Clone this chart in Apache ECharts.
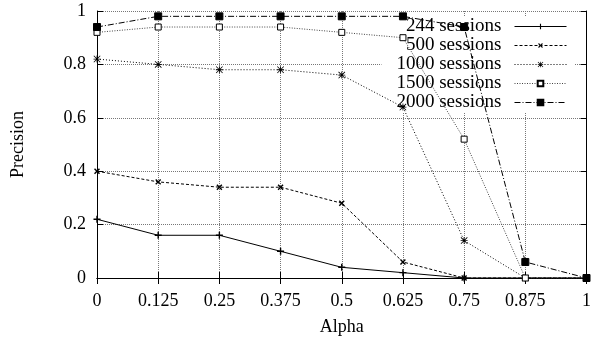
<!DOCTYPE html>
<html>
<head>
<meta charset="utf-8">
<script src="https://cdn.jsdelivr.net/npm/echarts@6/dist/echarts.min.js"></script>
<style>
html, body { margin: 0; padding: 0; background: #fff; }
#chart { width: 594px; height: 342px; }
</style>
</head>
<body>
<div id="chart"></div>
<script>
// precision vs alpha, one line per session count
var alphas = ['0', '0.125', '0.25', '0.375', '0.5', '0.625', '0.75', '0.875', '1'];
var names = ['244 sessions', '500 sessions', '1000 sessions', '1500 sessions', '2000 sessions'];
var s244 = [0.22, 0.16, 0.16, 0.10, 0.04, 0.02, 0, 0, 0];
var s500 = [0.40, 0.36, 0.34, 0.34, 0.28, 0.06, 0, 0, 0];
var s1000 = [0.82, 0.80, 0.78, 0.78, 0.76, 0.64, 0.14, 0, 0];
var s1500 = [0.92, 0.94, 0.94, 0.94, 0.92, 0.90, 0.52, 0, 0];
var s2000 = [0.94, 0.98, 0.98, 0.98, 0.98, 0.98, 0.94, 0.06, 0];

var font = "'Liberation Serif', 'Times New Roman', serif";
var plus = 'path://M4,0h2v4h4v2h-4v4h-2v-4h-4v-2h4z';
var star = 'path://M4.4,0h1.2v10h-1.2z M0,4.4h10v1.2h-10z M0,0.8L0.8,0L10,9.2L9.2,10z M9.2,0L10,0.8L0.8,10L0,9.2z';

var styles = [
    { data: s244, symbol: plus, size: 7, fill: '#000', dash: 'solid', color: '#000' },
    { data: s500, symbol: plus, size: 7, rotate: 45, fill: '#000', dash: [3, 2], color: '#000' },
    { data: s1000, symbol: star, size: 7, fill: '#000', dash: [1, 2], color: '#000' },
    { data: s1500, symbol: 'rect', size: 6, fill: '#fff', dash: [1, 1.5], color: '#444' },
    { data: s2000, symbol: 'rect', size: 7, fill: '#000', dash: [6, 2, 1, 2], color: '#000' }
];

var myChart = echarts.init(document.getElementById('chart'));

var series = [];
var legends = [];
styles.forEach(function (st, i) {
    series.push({
        name: names[i],
        type: 'line',
        data: st.data,
        z: 3,
        symbol: st.symbol,
        symbolSize: st.size,
        symbolRotate: st.rotate || 0,
        showAllSymbol: true,
        lineStyle: { color: st.color, width: 1, type: st.dash },
        itemStyle: {
            color: st.fill,
            borderColor: st.symbol === 'rect' ? '#000' : st.fill,
            borderWidth: st.symbol === 'rect' ? 1 : 0
        },
        emphasis: { disabled: true }
    });
    // one legend per row so the line samples line up on the right
    legends.push({
        data: [names[i]],
        right: 19,
        top: 17 + i * 19,
        align: 'right',
        orient: 'vertical',
        itemWidth: 52,
        itemHeight: 7,
        padding: [0, 8, 0, 15],
        backgroundColor: '#fff',
        z: 1,
        selectedMode: false,
        lineStyle: { width: 1 },
        textStyle: {
            fontFamily: font,
            fontSize: 19,
            color: '#000',
            lineHeight: 19,
            padding: [0, 8, 0, 0]
        }
    });
});

var option = {
    animation: false,
    grid: { left: 97, right: 5, top: 11, bottom: 64 },
    legend: legends,
    xAxis: [
        {
            type: 'category',
            data: alphas,
            boundaryGap: false,
            name: 'Alpha',
            nameLocation: 'middle',
            nameGap: 40,
            nameTextStyle: { fontFamily: font, fontSize: 18, color: '#000' },
            axisLine: { lineStyle: { color: '#000', width: 1 } },
            axisTick: { inside: true, length: 6, lineStyle: { color: '#000' } },
            axisLabel: { fontFamily: font, fontSize: 18, color: '#000', margin: 14 },
            splitLine: { show: true, lineStyle: { color: '#777', type: 'dotted', width: 1 } }
        },
        {
            type: 'category',
            data: alphas,
            boundaryGap: false,
            position: 'top',
            axisLine: { lineStyle: { color: '#000', width: 1 } },
            axisTick: { inside: true, length: 6, lineStyle: { color: '#000' } },
            axisLabel: { show: false },
            splitLine: { show: false }
        }
    ],
    yAxis: [
        {
            type: 'value',
            min: 0,
            max: 1,
            interval: 0.2,
            name: 'Precision',
            nameLocation: 'middle',
            nameGap: 70,
            nameTextStyle: { fontFamily: font, fontSize: 18, color: '#000' },
            axisLine: { show: true, lineStyle: { color: '#000', width: 1 } },
            axisTick: { show: true, inside: true, length: 6, lineStyle: { color: '#000' } },
            axisLabel: { fontFamily: font, fontSize: 18, color: '#000', margin: 11 },
            splitLine: { show: true, lineStyle: { color: '#777', type: 'dotted', width: 1 } }
        },
        {
            type: 'value',
            min: 0,
            max: 1,
            interval: 0.2,
            position: 'right',
            axisLine: { show: true, lineStyle: { color: '#000', width: 1 } },
            axisTick: { show: true, inside: true, length: 6, lineStyle: { color: '#000' } },
            axisLabel: { show: false },
            splitLine: { show: false }
        }
    ],
    series: series
};

myChart.setOption(option);
</script>
</body>
</html>
